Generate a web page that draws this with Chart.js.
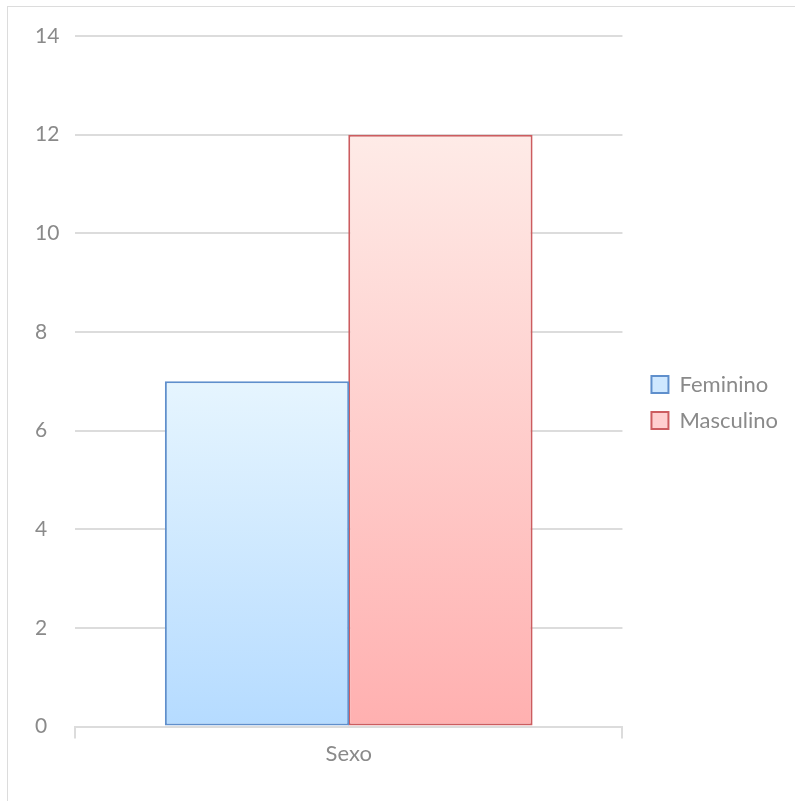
<!DOCTYPE html>
<html lang="pt">
<head>
<meta charset="utf-8">
<title>Sexo</title>
<script src="https://cdn.jsdelivr.net/npm/chart.js@4/dist/chart.umd.min.js"></script>
<style>
    html, body { margin: 0; padding: 0; background: #ffffff; overflow: hidden; }
    .frame {
        position: absolute;
        left: 7px;
        top: 6px;
        width: 820px;
        height: 820px;
        border-top: 1px solid #dcdcdc;
        border-left: 1px solid #dcdcdc;
    }
    #wrap { position: absolute; left: 0; top: 0; width: 795px; height: 801px; }
</style>
</head>
<body>
<div class="frame"></div>
<div id="wrap"><canvas id="sexChart"></canvas></div>

<script>
// data
const categories = ["Sexo"];
const seriesNames = ["Feminino", "Masculino"];
const feminino = [7];
const masculino = [12];
const yTicks = [0, 2, 4, 6, 8, 10, 12, 14];

const fontFamily = "Lato, 'Open Sans', sans-serif";
const fontSize = 21;
const textColor = "#8a8a8a";
const gridColor = "#dcdcdc";

// vertical gradient from the top of each bar down to the baseline
function barGradient(top, bottom) {
    return (context) => {
        const chart = context.chart;
        if (!chart.chartArea || !context.parsed) return bottom;
        const y = chart.scales.y;
        const g = chart.ctx.createLinearGradient(0, y.getPixelForValue(context.parsed.y), 0, y.getPixelForValue(0));
        g.addColorStop(0, top);
        g.addColorStop(1, bottom);
        return g;
    };
}

const ctx = document.getElementById("sexChart").getContext("2d");
new Chart(ctx, {
    type: "bar",
    data: {
        labels: categories,
        datasets: [
            {
                label: seriesNames[0],
                data: feminino,
                backgroundColor: barGradient("#e6f5fe", "#b5dbff"),
                borderColor: "#5f8fcc",
                borderWidth: 2,
                borderSkipped: false
            },
            {
                label: seriesNames[1],
                data: masculino,
                backgroundColor: barGradient("#feebe7", "#ffb0b0"),
                borderColor: "#cc5c5f",
                borderWidth: 2,
                borderSkipped: false
            }
        ]
    },
    options: {
        responsive: true,
        maintainAspectRatio: false,
        animation: false,
        layout: {
            padding: { left: 35, right: 7, top: 36, bottom: 32 }
        },
        datasets: {
            bar: { categoryPercentage: 0.67, barPercentage: 1.005 }
        },
        scales: {
            x: {
                border: { display: true, color: gridColor, width: 2 },
                grid: {
                    display: true,
                    offset: true,
                    drawOnChartArea: false,
                    drawTicks: true,
                    tickLength: 12,
                    color: gridColor,
                    lineWidth: 2
                },
                ticks: {
                    color: textColor,
                    font: { family: fontFamily, size: 22 },
                    padding: 2
                }
            },
            y: {
                min: 0,
                max: 14,
                afterBuildTicks: (axis) => {
                    axis.ticks = yTicks.map((v) => ({ value: v }));
                },
                afterFit: (axis) => { axis.width = 40; },
                border: { display: false },
                grid: {
                    color: gridColor,
                    lineWidth: 2,
                    drawTicks: false
                },
                ticks: {
                    color: textColor,
                    font: { family: fontFamily, size: fontSize },
                    crossAlign: "far",
                    padding: 15
                }
            },
            // empty spacer between the plot and the legend
            gap: {
                position: "right",
                afterFit: (axis) => { axis.width = 15; },
                grid: { display: false },
                border: { display: false },
                ticks: { display: false }
            }
        },
        plugins: {
            legend: {
                position: "right",
                align: "center",
                maxWidth: 220,
                labels: {
                    color: textColor,
                    font: { family: fontFamily, size: 22 },
                    boxWidth: 17,
                    boxHeight: 17,
                    padding: 14,
                    generateLabels: (chart) => chart.data.datasets.map((ds, i) => ({
                        text: ds.label,
                        fillStyle: i === 0 ? "#cfe8ff" : "#ffcfcf",
                        strokeStyle: ds.borderColor,
                        lineWidth: 2,
                        datasetIndex: i,
                        fontColor: textColor
                    }))
                }
            },
            tooltip: { enabled: false }
        }
    }
});
</script>
</body>
</html>
